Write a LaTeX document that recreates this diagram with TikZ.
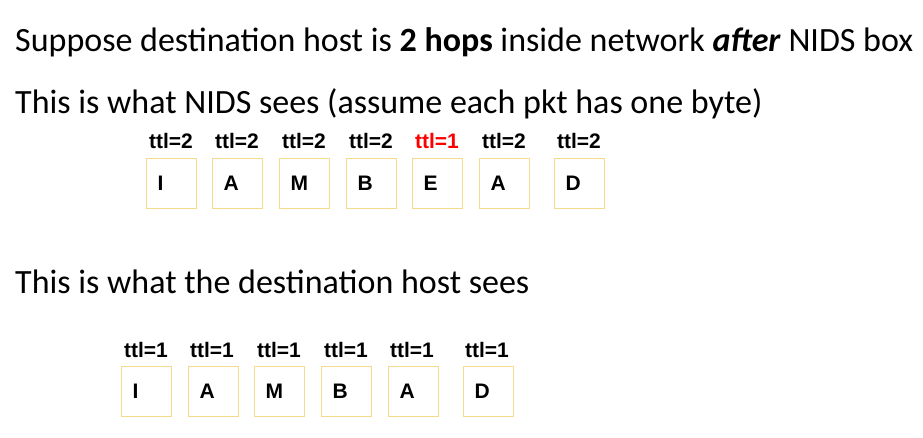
\documentclass[tikz,border=0pt]{standalone}
\usepackage{fontspec}
\setmainfont{Carlito}
\newfontfamily\lblfont{Liberation Sans}
\usepackage{xcolor}
\usepackage{tikz}
\usetikzlibrary{positioning}

\definecolor{boxgold}{RGB}{246,218,140}

\tikzset{
  headline/.style={anchor=base west, inner sep=0pt, font=\fontsize{34}{40}\selectfont},
  ttllabel/.style={anchor=base, inner sep=0pt, font=\lblfont\bfseries\fontsize{21}{24}\selectfont},
  pktbox/.style={draw=boxgold, line width=1.2pt, anchor=north west, minimum width=50pt, minimum height=50pt,
    text width=28pt, inner xsep=11pt, inner ysep=0pt, align=left, font=\lblfont\bfseries\fontsize{21}{24}\selectfont}
}

\begin{document}
\begin{tikzpicture}[x=1pt, y=-1pt]
  \useasboundingbox (0,0) rectangle (923,437);

  % Headlines
  \node[headline] (hdr1) at (15,51) {Suppose destination host is \textbf{2 hops} inside network \textbf{\textit{after}} NIDS box};
  \node[headline] (hdr2) at (15,113) {This is what NIDS sees (assume each pkt has one byte)};
  \node[headline] (hdr3) at (15,293) {This is what the destination host sees};

  % What the NIDS sees
  \node[pktbox] (n1) at (146,157.5) {I};
  \node[pktbox] (n2) at (212,157.5) {A};
  \node[pktbox] (n3) at (279,157.5) {M};
  \node[pktbox] (n4) at (346,157.5) {B};
  \node[pktbox] (n5) at (412,157.5) {E};
  \node[pktbox] (n6) at (479,157.5) {A};
  \node[pktbox] (n7) at (554,157.5) {D};
  \node[ttllabel] (t1) at (171,148) {ttl=2};
  \node[ttllabel] (t2) at (237,148) {ttl=2};
  \node[ttllabel] (t3) at (304,148) {ttl=2};
  \node[ttllabel] (t4) at (371,148) {ttl=2};
  \node[ttllabel, text=red] (t5) at (437,148) {ttl=1};
  \node[ttllabel] (t6) at (504,148) {ttl=2};
  \node[ttllabel] (t7) at (579,148) {ttl=2};

  % What the destination host sees
  \node[pktbox] (d1) at (121,366) {I};
  \node[pktbox] (d2) at (188,366) {A};
  \node[pktbox] (d3) at (254,366) {M};
  \node[pktbox] (d4) at (321,366) {B};
  \node[pktbox] (d5) at (388,366) {A};
  \node[pktbox] (d6) at (463,366) {D};
  \node[ttllabel] (s1) at (146,357) {ttl=1};
  \node[ttllabel] (s2) at (212,357) {ttl=1};
  \node[ttllabel] (s3) at (279,357) {ttl=1};
  \node[ttllabel] (s4) at (346,357) {ttl=1};
  \node[ttllabel] (s5) at (412,357) {ttl=1};
  \node[ttllabel] (s6) at (487,357) {ttl=1};
\end{tikzpicture}
\end{document}
